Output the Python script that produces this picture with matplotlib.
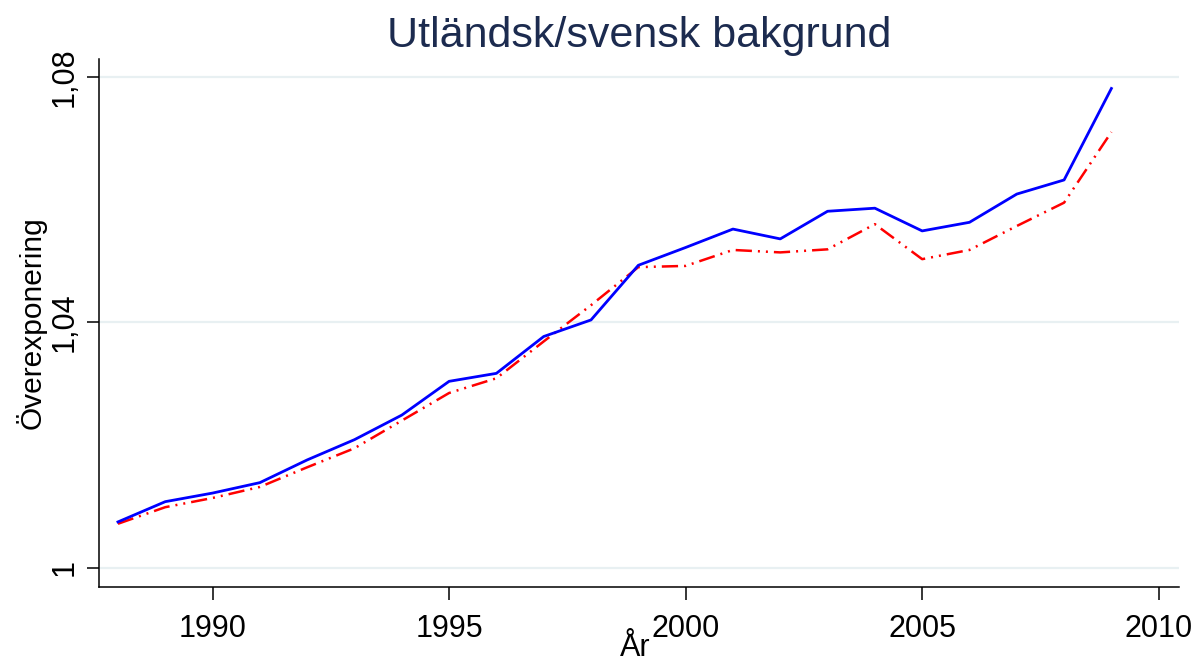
"""Overexposure ratio by year: foreign vs Swedish background (two series)."""

import matplotlib

matplotlib.use("Agg")
import matplotlib.pyplot as plt

plt.rcParams["font.family"] = ["Liberation Sans", "DejaVu Sans"]

years = list(range(1988, 2010))
series_solid = [1.0075, 1.0108, 1.0122, 1.0139, 1.0176, 1.0209, 1.0249, 1.0304,
                1.0317, 1.0377, 1.0404, 1.0493, 1.0522, 1.0552, 1.0536, 1.0581,
                1.0586, 1.0549, 1.0563, 1.0609, 1.0632, 1.0781]
series_dashdot = [1.0072, 1.0099, 1.0114, 1.0132, 1.0164, 1.0195, 1.0240, 1.0285,
                  1.0309, 1.0369, 1.0428, 1.0490, 1.0492, 1.0518, 1.0514, 1.0519,
                  1.0560, 1.0503, 1.0518, 1.0557, 1.0595, 1.0710]

x_ticks = [1990, 1995, 2000, 2005, 2010]
y_ticks = [1.0, 1.04, 1.08]
y_ticklabels = ["1", "1,04", "1,08"]

title = "Utländsk/svensk bakgrund"
xlabel = "År"
ylabel = "Överexponering"

fig = plt.figure(figsize=(11.93, 6.6), dpi=100)
ax = fig.add_axes([0.0834, 0.1106, 0.9049, 0.8000])

for yv in y_ticks:
    ax.axhline(yv, color="#e8f0f2", lw=1.6, zorder=0)

ax.plot(years, series_solid, color="#0000ff", lw=2.0, zorder=3)
ax.plot(years, series_dashdot, color="#ff0000", lw=1.8,
        dashes=(6.5, 2.4, 0.8, 2.4, 0.8, 2.4), zorder=2)

ax.set_xlim(1987.61, 2010.43)
ax.set_ylim(0.9969, 1.0829)

ax.set_xticks(x_ticks)
ax.set_yticks(y_ticks)
ax.set_yticklabels(y_ticklabels, rotation=90, va="center")
ax.tick_params(axis="both", direction="out", length=9, width=1.1,
               labelsize=22, color="black")
ax.tick_params(axis="x", pad=10.5)
ax.tick_params(axis="y", pad=5)

for side in ("top", "right"):
    ax.spines[side].set_visible(False)
for side in ("left", "bottom"):
    ax.spines[side].set_linewidth(1.1)

ax.set_title(title, fontsize=31, color="#1c2b4f", pad=8.5)

# x label sits low, partly overlapping the tick-label band as in the original
ax.set_xlabel(xlabel, fontsize=22)
ax.xaxis.label.set_va("baseline")
ax.xaxis.set_label_coords(0.496, -0.131)

ax.set_ylabel(ylabel, fontsize=21.5)
ax.yaxis.set_label_coords(-0.049, 0.5)

fig.savefig("out.png", dpi=100)
